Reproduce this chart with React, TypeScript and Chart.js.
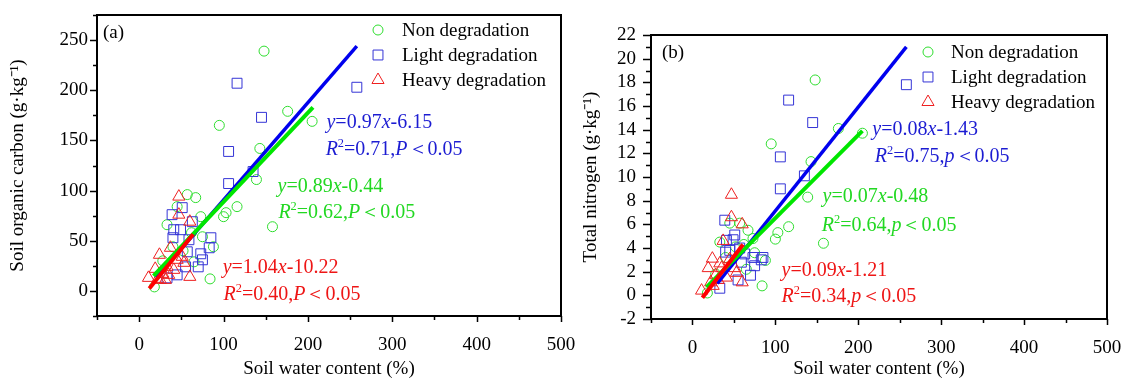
import React, { useEffect, useRef } from 'react';
import { Chart, registerables } from 'chart.js';

Chart.register(...registerables);

const FONT = '"Liberation Serif", "Times New Roman", serif';
Chart.defaults.font.family = FONT;

// ---------------- data ----------------
const seriesLabels = ['Non degradation', 'Light degradation', 'Heavy degradation'];

// Non degradation samples
const nonWater = [148, 95, 176, 143, 139, 205, 158, 116, 100, 103, 84, 57, 67, 33, 73, 75, 88, 45, 18, 28, 40, 52, 62, 65];
const nonSOC = [239, 165, 179, 142, 111, 169, 64, 84, 74, 78, 12, 96, 93, 66, 74, 54, 44, 84, 4, 30, 44, 40, 58, 29];
const nonTN = [18.2, 12.8, 14.1, 11.3, 8.3, 13.7, 4.4, 5.8, 4.75, 5.3, 0.8, 6.1, 5.5, 4.5, 4.8, 3.6, 2.95, 6.1, 0.2, 1.8, 3.2, 4.1, 4.3, 2.2];

// Light degradation samples
const lightWater = [116, 145, 106, 135, 106, 258, 39, 51, 41, 49, 63, 40, 59, 85, 83, 73, 57, 75, 70, 55, 45, 33];
const lightSOC = [207, 173, 139, 119, 107, 203, 76, 83, 61, 61, 69, 53, 51, 53, 43, 37, 39, 31, 24, 24, 16, 13];
const lightTN = [16.5, 14.6, 11.7, 10.1, 9.0, 17.8, 6.35, 5.1, 4.65, 4.7, 3.5, 3.65, 2.8, 3.2, 3.0, 3.2, 4.0, 2.5, 1.7, 1.3, 3.8, 0.6];

// Heavy degradation samples
const heavyWater = [47, 47, 60, 37, 24, 51, 45, 60, 11, 19, 33, 28, 22, 35, 41, 25, 31, 53];
const heavySOC = [94, 76, 69, 43, 36, 34, 31, 14, 13, 22, 24, 17, 12, 16, 21, 11, 11, 28];
const heavyTN = [8.5, 6.6, 6.0, 4.6, 3.1, 2.3, 3.05, 1.1, 0.4, 2.3, 2.7, 1.7, 1.1, 2.3, 1.5, 0.8, 1.3, 1.9];

// fitted line end points [x, y]
const fitSOCNon = [[17, 15], [206, 183]];
const fitSOCLight = [[20, 13], [258, 244]];
const fitSOCHeavy = [[12, 2.5], [64, 56.5]];
const fitTNNon = [[17, 0.7], [205, 13.9]];
const fitTNLight = [[30, 1.0], [258, 21.0]];
const fitTNHeavy = [[12, -0.2], [61, 4.3]];

// equation texts
const eqSOC = ['y=0.89x-0.44', 'R²=0.62,P＜0.05', 'y=0.97x-6.15', 'R²=0.71,P＜0.05', 'y=1.04x-10.22', 'R²=0.40,P＜0.05'];
const eqTN = ['y=0.07x-0.48', 'R²=0.64,p＜0.05', 'y=0.08x-1.43', 'R²=0.75,p＜0.05', 'y=0.09x-1.21', 'R²=0.34,p＜0.05'];

// ---------------- styles ----------------
const GREEN = '#2EDD2E';
const BLUE = '#3434D6';
const RED = '#EE2020';
const GREEN_LINE = '#00E600';
const BLUE_LINE = '#0000EE';
const RED_LINE = '#FF0000';
const GREEN_TXT = '#22D822';
const BLUE_TXT = '#1C1CD2';
const RED_TXT = '#EE1515';

const toPts = (xs: number[], ys: number[]) => xs.map((x, i) => ({ x, y: ys[i] }));
const toLine = (p: number[][]) => p.map(([x, y]) => ({ x, y }));

function drawMarker(ctx: CanvasRenderingContext2D, style: string, x: number, y: number, r: number, color: string) {
  ctx.save();
  ctx.strokeStyle = color;
  ctx.lineWidth = 1;
  ctx.beginPath();
  if (style === 'circle') {
    ctx.arc(x, y, r, 0, Math.PI * 2);
  } else if (style === 'rect') {
    const s = r * Math.SQRT1_2;
    ctx.rect(x - s, y - s, 2 * s, 2 * s);
  } else {
    let rad = 0;
    ctx.moveTo(x + Math.sin(rad) * r, y - Math.cos(rad) * r);
    rad += (2 * Math.PI) / 3;
    ctx.lineTo(x + Math.sin(rad) * r, y - Math.cos(rad) * r);
    rad += (2 * Math.PI) / 3;
    ctx.lineTo(x + Math.sin(rad) * r, y - Math.cos(rad) * r);
    ctx.closePath();
  }
  ctx.stroke();
  ctx.restore();
}

function drawRich(ctx: CanvasRenderingContext2D, text: string, x: number, y: number, size: number, color: string) {
  ctx.save();
  ctx.fillStyle = color;
  ctx.textBaseline = 'middle';
  ctx.textAlign = 'left';
  let cx = x;
  for (const ch of Array.from(text)) {
    let t = ch;
    const italic = 'xyRPp'.includes(ch);
    let sup = false;
    if (ch === '²') { t = '2'; sup = true; }
    const sz = sup ? size * 0.62 : size;
    ctx.font = `${italic ? 'italic ' : ''}${sz}px ${FONT}`;
    ctx.fillText(t, cx, y + (sup ? -size * 0.3 : 0));
    cx += ctx.measureText(t).width;
  }
  ctx.restore();
}

const decorPlugin = {
  id: 'decor',
  afterDraw(chart: any, _args: any, opts: any) {
    const ctx: CanvasRenderingContext2D = chart.ctx;
    const { left, right, top, bottom } = chart.chartArea;
    const xs = chart.scales.x;
    const ys = chart.scales.y;
    ctx.save();
    // frame
    ctx.strokeStyle = '#000';
    ctx.lineWidth = 2;
    ctx.strokeRect(left, top, right - left, bottom - top);
    // tick marks
    ctx.lineWidth = 1.5;
    ctx.beginPath();
    xs.ticks.forEach((t: any) => {
      const p = Math.round(xs.getPixelForValue(t.value)) + 0.5;
      const L = t.label ? opts.xMajor : opts.xMinor;
      ctx.moveTo(p, bottom);
      ctx.lineTo(p, bottom + L);
    });
    ys.ticks.forEach((t: any) => {
      const p = Math.round(ys.getPixelForValue(t.value)) + 0.5;
      const L = t.label ? opts.yMajor : opts.yMinor;
      ctx.moveTo(left, p);
      ctx.lineTo(left - L, p);
    });
    ctx.stroke();
    // panel tag
    ctx.fillStyle = '#000';
    ctx.font = `19px ${FONT}`;
    ctx.textBaseline = 'middle';
    ctx.textAlign = 'left';
    ctx.fillText(opts.tag, left + opts.tagDx, top + opts.tagDy);
    // legend
    const styles = ['circle', 'rect', 'triangle'];
    const radii = [5, 7, 7];
    const colors = [GREEN, BLUE, RED];
    seriesLabels.forEach((lab, i) => {
      const y = top + opts.legDy + i * opts.legGap;
      drawMarker(ctx, styles[i], right + opts.legMarkDx, y, radii[i], colors[i]);
      ctx.fillStyle = '#000';
      ctx.font = `19px ${FONT}`;
      ctx.textBaseline = 'middle';
      ctx.fillText(lab, right + opts.legTextDx, y + 1);
    });
    // equations
    opts.eqs.forEach((e: any) => {
      drawRich(ctx, e.text, xs.getPixelForValue(e.x), ys.getPixelForValue(e.y), 20, e.color);
    });
    ctx.restore();
  },
};

const noPad = (s: any) => {
  s.paddingLeft = 0;
  s.paddingRight = 0;
  s.paddingTop = 0;
  s.paddingBottom = 0;
};

function buildConfig(p: any) {
  return {
    type: 'scatter',
    data: {
      datasets: [
        { label: 'fit heavy', data: toLine(p.fits[2]), showLine: true, borderColor: RED_LINE, borderWidth: 4, pointRadius: 0, order: 0 },
        { label: 'fit non', data: toLine(p.fits[0]), showLine: true, borderColor: GREEN_LINE, borderWidth: 4, pointRadius: 0, order: 1 },
        { label: 'fit light', data: toLine(p.fits[1]), showLine: true, borderColor: BLUE_LINE, borderWidth: 3.5, pointRadius: 0, order: 2 },
        { label: seriesLabels[2], data: p.pts[2], pointStyle: 'triangle', pointRadius: 7, borderColor: RED, backgroundColor: 'rgba(0,0,0,0)', borderWidth: 1, order: 3 },
        { label: seriesLabels[1], data: p.pts[1], pointStyle: 'rect', pointRadius: 7, borderColor: BLUE, backgroundColor: 'rgba(0,0,0,0)', borderWidth: 1, order: 4 },
        { label: seriesLabels[0], data: p.pts[0], pointStyle: 'circle', pointRadius: 5, borderColor: GREEN, backgroundColor: 'rgba(0,0,0,0)', borderWidth: 1, order: 5 },
      ],
    },
    options: {
      responsive: false,
      animation: false,
      events: [],
      layout: { padding: p.padding },
      plugins: {
        legend: { display: false },
        tooltip: { enabled: false },
        decor: p.decor,
      },
      scales: {
        x: {
          type: 'linear',
          min: -50,
          max: 500,
          grid: { display: false, drawTicks: true, tickLength: p.xTickPad },
          border: { display: false },
          ticks: {
            stepSize: 50,
            autoSkip: false,
            maxRotation: 0,
            padding: 0,
            color: '#000',
            font: { size: 19, family: FONT },
            callback: (v: number) => (v % 100 === 0 && v >= 0 ? String(v) : ''),
          },
          title: {
            display: true,
            text: 'Soil water content (%)',
            color: '#000',
            font: { size: 19, family: FONT },
            padding: { top: 0, bottom: p.xTitlePad },
          },
          afterFit: (s: any) => { s.height = p.xHeight; noPad(s); },
        },
        y: {
          type: 'linear',
          min: p.yMin,
          max: p.yMax,
          grid: { display: false, drawTicks: true, tickLength: p.yTickPad },
          border: { display: false },
          ticks: {
            stepSize: p.yStep,
            autoSkip: false,
            padding: 0,
            color: '#000',
            font: { size: 19, family: FONT },
            callback: p.yLabel,
          },
          title: {
            display: true,
            text: p.yTitle,
            color: '#000',
            font: { size: 19, family: FONT },
            padding: { top: p.yTitlePad, bottom: 0 },
          },
          afterFit: (s: any) => { s.width = p.yWidth; noPad(s); },
        },
      },
    },
    plugins: [decorPlugin],
  };
}

const panelA = {
  pts: [toPts(nonWater, nonSOC), toPts(lightWater, lightSOC), toPts(heavyWater, heavySOC)],
  fits: [fitSOCNon, fitSOCLight, fitSOCHeavy],
  padding: { top: 15, right: 29, bottom: 0, left: 0 },
  xHeight: 65,
  yWidth: 97,
  yMin: -25,
  yMax: 275,
  yStep: 25,
  yLabel: (v: number) => (v % 50 === 0 && v >= 0 && v <= 250 ? String(v) : ''),
  yTitle: 'Soil organic carbon (g·kg⁻¹)',
  xTickPad: 18,
  yTickPad: 9,
  xTitlePad: 1,
  yTitlePad: 6.5,
  decor: {
    xMajor: 6, xMinor: 4, yMajor: 7, yMinor: 4,
    tag: '(a)', tagDx: 6, tagDy: 18,
    legMarkDx: -183, legTextDx: -159, legDy: 15, legGap: 25,
    eqs: [
      { text: eqSOC[0], color: GREEN_TXT, x: 164, y: 104 },
      { text: eqSOC[1], color: GREEN_TXT, x: 165, y: 78 },
      { text: eqSOC[2], color: BLUE_TXT, x: 222, y: 168 },
      { text: eqSOC[3], color: BLUE_TXT, x: 221, y: 141 },
      { text: eqSOC[4], color: RED_TXT, x: 99, y: 23 },
      { text: eqSOC[5], color: RED_TXT, x: 100, y: -4 },
    ],
  },
};

const panelB = {
  pts: [toPts(nonWater, nonTN), toPts(lightWater, lightTN), toPts(heavyWater, heavyTN)],
  fits: [fitTNNon, fitTNLight, fitTNHeavy],
  padding: { top: 35, right: 17, bottom: 0, left: 0 },
  xHeight: 62,
  yWidth: 76,
  yMin: -2,
  yMax: 22,
  yStep: 1,
  yLabel: (v: number) => (v % 2 === 0 ? String(v) : ''),
  yTitle: 'Total nitrogen (g·kg⁻¹)',
  xTickPad: 18,
  yTickPad: 15,
  xTitlePad: 1,
  yTitlePad: 5,
  decor: {
    xMajor: 6, xMinor: 4, yMajor: 8, yMinor: 5,
    tag: '(b)', tagDx: 11, tagDy: 18,
    legMarkDx: -179, legTextDx: -156, legDy: 17, legGap: 25,
    eqs: [
      { text: eqTN[0], color: GREEN_TXT, x: 157, y: 8.3 },
      { text: eqTN[1], color: GREEN_TXT, x: 156, y: 5.9 },
      { text: eqTN[2], color: BLUE_TXT, x: 217, y: 14.0 },
      { text: eqTN[3], color: BLUE_TXT, x: 220, y: 11.7 },
      { text: eqTN[4], color: RED_TXT, x: 107.5, y: 2.1 },
      { text: eqTN[5], color: RED_TXT, x: 107.5, y: -0.1 },
    ],
  },
};

function Panel({ spec, left, width }: { spec: any; left: number; width: number }) {
  const ref = useRef<HTMLCanvasElement>(null);
  useEffect(() => {
    const chart = new Chart(ref.current as HTMLCanvasElement, buildConfig(spec) as any);
    return () => chart.destroy();
  }, [spec]);
  return (
    <canvas
      ref={ref}
      width={width}
      height={381}
      style={{ position: 'absolute', left, top: 0, width, height: 381 }}
    />
  );
}

export default function App() {
  return (
    <div style={{ position: 'fixed', left: 0, top: 0, width: 1124, height: 381, background: '#fff', overflow: 'hidden' }}>
      <Panel spec={panelA} left={0} width={590} />
      <Panel spec={panelB} left={575} width={549} />
    </div>
  );
}
